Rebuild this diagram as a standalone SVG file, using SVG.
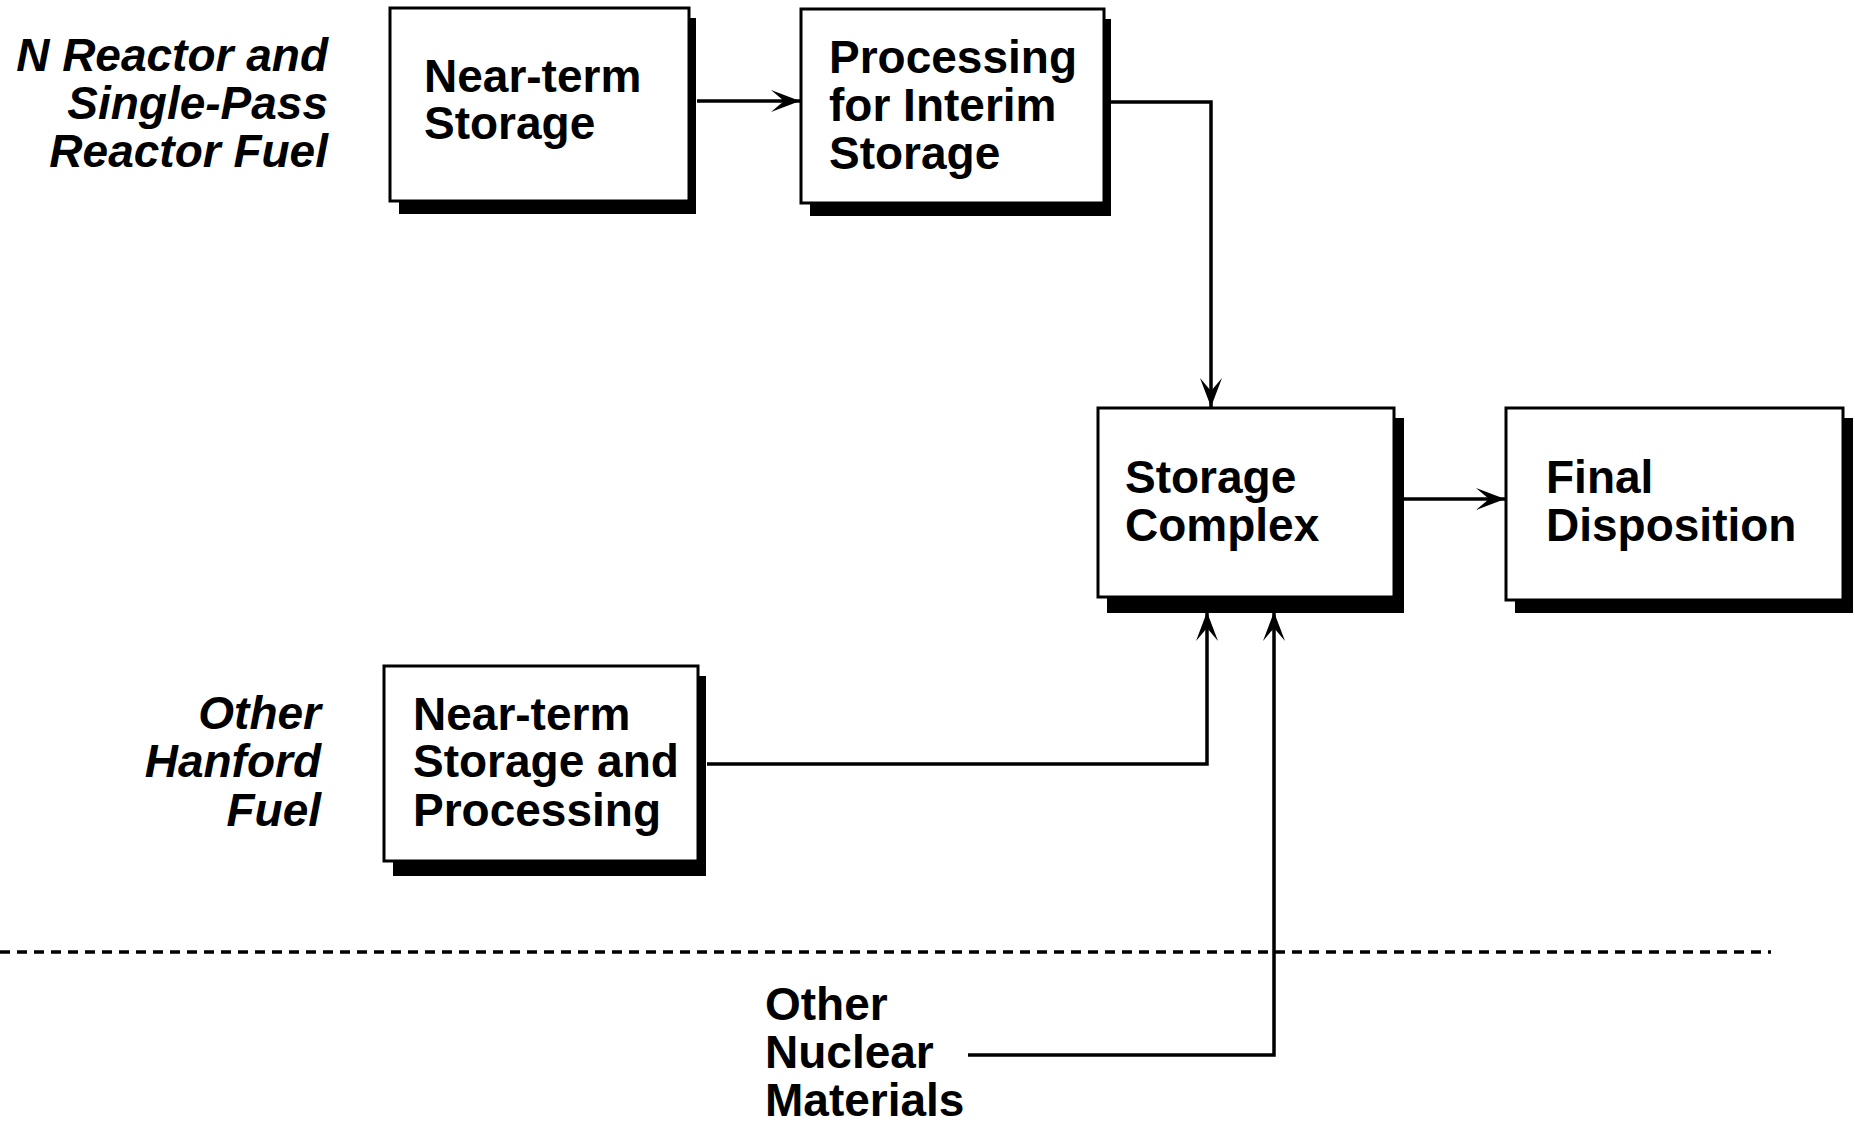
<svg xmlns="http://www.w3.org/2000/svg" width="1855" height="1126" viewBox="0 0 1855 1126">
  <style>
    .box { fill: #ffffff; stroke: #000000; stroke-width: 3; }
    .shadow { fill: #000000; }
    .lbl { font-family: "Liberation Sans", Arial, sans-serif; font-weight: bold; font-size: 46px; fill: #000000; }
    .src { font-family: "Liberation Sans", Arial, sans-serif; font-weight: bold; font-style: italic; font-size: 46px; fill: #000000; text-anchor: end; }
    .wire { fill: none; stroke: #000000; stroke-width: 3.5; }
    .divider { fill: none; stroke: #000000; stroke-width: 3.5; stroke-dasharray: 10 7; }
  </style>
  <defs>
    <marker id="arrow" markerUnits="userSpaceOnUse" markerWidth="34" markerHeight="26" viewBox="-31 -13 34 26" refX="0" refY="0" orient="auto">
      <path d="M0,0 L-29,-11 L-16,0 L-29,11 Z" fill="#000000"/>
    </marker>
  </defs>
  <rect width="1855" height="1126" fill="#ffffff"/>

  <!-- source labels -->
  <g id="label-n-reactor">
    <text class="src" x="328" y="71">N Reactor and</text>
    <text class="src" x="328" y="119">Single-Pass</text>
    <text class="src" x="328" y="167">Reactor Fuel</text>
  </g>
  <g id="label-other-hanford">
    <text class="src" x="321" y="729">Other</text>
    <text class="src" x="321" y="777">Hanford</text>
    <text class="src" x="321" y="826">Fuel</text>
  </g>
  <g id="label-other-nuclear">
    <text class="lbl" x="765" y="1020">Other</text>
    <text class="lbl" x="765" y="1068">Nuclear</text>
    <text class="lbl" x="765" y="1116">Materials</text>
  </g>

  <!-- process boxes with drop shadows -->
  <g id="near-term-storage">
    <rect class="shadow" x="399" y="18" width="297" height="196"/>
    <rect class="box" x="390" y="8" width="299" height="193"/>
    <text class="lbl" x="424" y="92">Near-term</text>
    <text class="lbl" x="424" y="139">Storage</text>
  </g>
  <g id="processing-interim">
    <rect class="shadow" x="810" y="19" width="301" height="197"/>
    <rect class="box" x="801" y="9" width="303" height="194"/>
    <text class="lbl" x="829" y="73">Processing</text>
    <text class="lbl" x="829" y="121">for Interim</text>
    <text class="lbl" x="829" y="169">Storage</text>
  </g>
  <g id="storage-complex">
    <rect class="shadow" x="1107" y="418" width="297" height="195"/>
    <rect class="box" x="1098" y="408" width="296" height="189"/>
    <text class="lbl" x="1125" y="493">Storage</text>
    <text class="lbl" x="1125" y="541">Complex</text>
  </g>
  <g id="final-disposition">
    <rect class="shadow" x="1515" y="418" width="338" height="195"/>
    <rect class="box" x="1506" y="408" width="337" height="192"/>
    <text class="lbl" x="1546" y="493">Final</text>
    <text class="lbl" x="1546" y="541">Disposition</text>
  </g>
  <g id="near-term-storage-processing">
    <rect class="shadow" x="393" y="676" width="313" height="200"/>
    <rect class="box" x="384" y="666" width="314" height="195"/>
    <text class="lbl" x="413" y="730">Near-term</text>
    <text class="lbl" x="413" y="777">Storage and</text>
    <text class="lbl" x="413" y="826">Processing</text>
  </g>

  <!-- flow connectors -->
  <g id="connectors">
    <path class="wire" d="M697,101 L800,101" marker-end="url(#arrow)"/>
    <path class="wire" d="M1111,102 L1211,102 L1211,407" marker-end="url(#arrow)"/>
    <path class="wire" d="M1404,499 L1505,499" marker-end="url(#arrow)"/>
    <path class="wire" d="M707,764 L1207,764 L1207,612" marker-end="url(#arrow)"/>
    <path class="wire" d="M968,1055 L1274,1055 L1274,612" marker-end="url(#arrow)"/>
    <path class="divider" d="M0,952 L1771,952"/>
  </g>
</svg>
